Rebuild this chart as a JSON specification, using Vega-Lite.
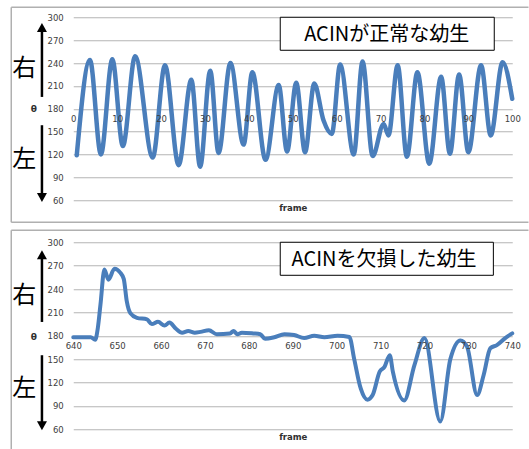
{
  "$schema": "https://vega.github.io/schema/vega-lite/v6.json",
  "autosize": {"type": "pad"},
  "padding": {"left": 10.25, "top": 6.25, "right": 0, "bottom": 0},
  "background": "white",
  "bounds": "flush",
  "spacing": 42,
  "config": {
    "view": {"stroke": null},
    "axis": {"labelFont": "DejaVu Sans", "titleFont": "DejaVu Sans", "labelColor": "#404040", "titleColor": "#303030", "labelFontSize": 8.5, "labelFlush": false, "labelOverlap": false}
  },
  "datasets": {
    "normal": [
      {"frame": 0.8, "theta": 119}, {"frame": 3.8, "theta": 244}, {"frame": 6.3, "theta": 120},
      {"frame": 8.9, "theta": 245}, {"frame": 11.3, "theta": 131}, {"frame": 14.1, "theta": 249},
      {"frame": 18.1, "theta": 116}, {"frame": 20.9, "theta": 237}, {"frame": 24, "theta": 106},
      {"frame": 26.9, "theta": 218}, {"frame": 28.9, "theta": 104}, {"frame": 31.2, "theta": 230},
      {"frame": 33.1, "theta": 122}, {"frame": 35.8, "theta": 240}, {"frame": 38.8, "theta": 133},
      {"frame": 40.8, "theta": 228}, {"frame": 43.8, "theta": 113}, {"frame": 46.8, "theta": 211},
      {"frame": 48.7, "theta": 124}, {"frame": 50.8, "theta": 214}, {"frame": 52.8, "theta": 123},
      {"frame": 54.9, "theta": 213}, {"frame": 57, "theta": 165}, {"frame": 58.9, "theta": 147},
      {"frame": 60.8, "theta": 238}, {"frame": 63.9, "theta": 120}, {"frame": 65.9, "theta": 242},
      {"frame": 68.2, "theta": 118}, {"frame": 70.7, "theta": 160}, {"frame": 71.8, "theta": 145},
      {"frame": 73.9, "theta": 237}, {"frame": 76, "theta": 117}, {"frame": 78.4, "theta": 228},
      {"frame": 81.1, "theta": 108}, {"frame": 83.8, "theta": 222}, {"frame": 85.8, "theta": 121},
      {"frame": 87.9, "theta": 225}, {"frame": 90, "theta": 123}, {"frame": 92.9, "theta": 237},
      {"frame": 95.1, "theta": 145}, {"frame": 97.8, "theta": 241}, {"frame": 100, "theta": 193}
    ],
    "deficient": [
      {"frame": 640, "theta": 178}, {"frame": 642, "theta": 178}, {"frame": 644, "theta": 178},
      {"frame": 645, "theta": 175}, {"frame": 645.6, "theta": 190}, {"frame": 646.2, "theta": 220},
      {"frame": 647.1, "theta": 265}, {"frame": 648, "theta": 252}, {"frame": 649.4, "theta": 266},
      {"frame": 650.7, "theta": 261}, {"frame": 651.5, "theta": 253}, {"frame": 652.2, "theta": 224},
      {"frame": 653, "theta": 209}, {"frame": 654.5, "theta": 203}, {"frame": 656.8, "theta": 201},
      {"frame": 657.9, "theta": 195}, {"frame": 659.3, "theta": 198}, {"frame": 660.8, "theta": 193},
      {"frame": 661.9, "theta": 197}, {"frame": 663.4, "theta": 189}, {"frame": 664.8, "theta": 184},
      {"frame": 666.2, "theta": 186}, {"frame": 667.7, "theta": 184}, {"frame": 669, "theta": 185},
      {"frame": 670.9, "theta": 187}, {"frame": 672.7, "theta": 182}, {"frame": 675.7, "theta": 183},
      {"frame": 676.5, "theta": 186}, {"frame": 677.4, "theta": 182}, {"frame": 678.4, "theta": 184},
      {"frame": 681, "theta": 183}, {"frame": 682.6, "theta": 182}, {"frame": 683.7, "theta": 176},
      {"frame": 685.8, "theta": 178}, {"frame": 688.1, "theta": 182}, {"frame": 690.3, "theta": 181},
      {"frame": 692.6, "theta": 177}, {"frame": 694.9, "theta": 180}, {"frame": 697.2, "theta": 178},
      {"frame": 700.2, "theta": 180}, {"frame": 702.9, "theta": 178.5}, {"frame": 704, "theta": 150},
      {"frame": 705.5, "theta": 112}, {"frame": 707, "theta": 98}, {"frame": 708.2, "theta": 104},
      {"frame": 709.8, "theta": 134}, {"frame": 710.9, "theta": 140}, {"frame": 712.1, "theta": 155},
      {"frame": 712.8, "theta": 134}, {"frame": 715.4, "theta": 97}, {"frame": 717.7, "theta": 142},
      {"frame": 720, "theta": 177}, {"frame": 723.6, "theta": 70}, {"frame": 725.9, "theta": 150},
      {"frame": 728.2, "theta": 174}, {"frame": 729.7, "theta": 166}, {"frame": 732, "theta": 104},
      {"frame": 733.5, "theta": 130}, {"frame": 735, "theta": 164}, {"frame": 736.5, "theta": 168},
      {"frame": 738.4, "theta": 177}, {"frame": 740, "theta": 183}
    ]
  },
  "vconcat": [
    {
      "width": 439,
      "height": 183,
      "layer": [
        {
          "data": {"name": "normal"},
          "mark": {"type": "line", "interpolate": "monotone", "color": "#4a7ebb", "strokeWidth": 4.5, "strokeCap": "round", "strokeJoin": "round"},
          "encoding": {
            "x": {"field": "frame", "type": "quantitative", "scale": {"domain": [0, 100], "nice": false, "zero": false},
              "axis": {"values": [0, 10, 20, 30, 40, 50, 60, 70, 80, 90, 100], "grid": false, "domain": false, "ticks": false, "offset": -91.5, "labelPadding": 6, "labelFlush": false, "labelOverlap": false, "zindex": 1, "title": "frame", "titleY": 98.5, "titleFontSize": 8.5, "titleFontWeight": "bold", "titleBaseline": "middle"}},
            "y": {"field": "theta", "type": "quantitative", "scale": {"domain": [60, 300], "nice": false, "zero": false},
              "axis": {"values": [60, 90, 120, 150, 180, 210, 240, 270, 300], "tickCount": 9, "grid": true, "gridColor": "#b4b4b4", "domain": false, "ticks": false, "labelPadding": 10, "labelFlush": false, "labelOverlap": false, "title": "θ", "titleAngle": 0, "titleX": -40, "titleY": 91.5, "titleFontSize": 9, "titleFontWeight": "bold", "titleAlign": "center", "titleBaseline": "middle"}}
          }
        },
        {
          "data": {"values": [{}]},
          "mark": {"type": "rule", "color": "#b0b0b0", "strokeWidth": 1.5},
          "encoding": {"x": {"datum": -14.12}, "y": {"datum": 313.1}, "y2": {"datum": 31.1}}
        },
        {
          "data": {"values": [{}]},
          "mark": {"type": "rule", "color": "#b0b0b0", "strokeWidth": 1.5},
          "encoding": {"x": {"datum": -14.12}, "x2": {"datum": 103.7}, "y": {"datum": 313.1}}
        },
        {
          "data": {"values": [{}]},
          "mark": {"type": "rule", "color": "#b0b0b0", "strokeWidth": 1.5},
          "encoding": {"x": {"datum": -14.12}, "x2": {"datum": 103.7}, "y": {"datum": 31.1}}
        },
        {
          "data": {"values": [{}]},
          "mark": {"type": "rule", "color": "black", "strokeWidth": 2.5},
          "encoding": {"x": {"datum": -7.13}, "y": {"datum": 282}, "y2": {"datum": 195.5}}
        },
        {
          "data": {"values": [{}]},
          "mark": {"type": "rule", "color": "black", "strokeWidth": 2.5},
          "encoding": {"x": {"datum": -7.13}, "y": {"datum": 158.4}, "y2": {"datum": 68.5}}
        },
        {
          "data": {"values": [{}]},
          "mark": {"type": "point", "shape": "M0,-1L-1,0.8L1,0.8Z", "filled": true, "color": "black", "opacity": 1, "size": 100},
          "encoding": {"x": {"datum": -7.13}, "y": {"datum": 286.0}}
        },
        {
          "data": {"values": [{}]},
          "mark": {"type": "point", "shape": "M0,1L-1,-0.8L1,-0.8Z", "filled": true, "color": "black", "opacity": 1, "size": 100},
          "encoding": {"x": {"datum": -7.13}, "y": {"datum": 64.3}}
        },
        {
          "data": {"values": [{}]},
          "mark": {"type": "text", "text": "右", "font": "Noto Sans CJK JP", "fontSize": 24, "color": "black", "align": "center", "baseline": "middle"},
          "encoding": {"x": {"datum": -11.16}, "y": {"datum": 231.8}}
        },
        {
          "data": {"values": [{}]},
          "mark": {"type": "text", "text": "左", "font": "Noto Sans CJK JP", "fontSize": 24, "color": "black", "align": "center", "baseline": "middle"},
          "encoding": {"x": {"datum": -11.16}, "y": {"datum": 112.5}}
        },
        {
          "data": {"values": [{}]},
          "mark": {"type": "rect", "fill": "white", "stroke": "black", "strokeWidth": 1},
          "encoding": {"x": {"datum": 47.15}, "x2": {"datum": 95.9}, "y": {"datum": 300}, "y2": {"datum": 256.7}}
        },
        {
          "data": {"values": [{}]},
          "mark": {"type": "text", "text": "ACINが正常な幼生", "font": "Noto Sans CJK JP", "fontSize": 20, "color": "black", "align": "center", "baseline": "middle"},
          "encoding": {"x": {"datum": 71.4}, "y": {"datum": 277}}
        }
      ]
    },
    {
      "width": 439,
      "height": 187,
      "layer": [
        {
          "data": {"name": "deficient"},
          "mark": {"type": "line", "interpolate": "monotone", "color": "#4a7ebb", "strokeWidth": 4, "strokeCap": "round", "strokeJoin": "round"},
          "encoding": {
            "x": {"field": "frame", "type": "quantitative", "scale": {"domain": [640, 740], "nice": false, "zero": false},
              "axis": {"values": [640, 650, 660, 670, 680, 690, 700, 710, 720, 730, 740], "grid": false, "domain": false, "ticks": false, "offset": -93.6, "labelPadding": 6, "labelFlush": false, "labelOverlap": false, "zindex": 1, "title": "frame", "titleY": 100.6, "titleFontSize": 8.5, "titleFontWeight": "bold", "titleBaseline": "middle"}},
            "y": {"field": "theta", "type": "quantitative", "scale": {"domain": [60, 300], "nice": false, "zero": false},
              "axis": {"values": [60, 90, 120, 150, 180, 210, 240, 270, 300], "tickCount": 9, "grid": true, "gridColor": "#b4b4b4", "domain": false, "ticks": false, "labelPadding": 10, "labelFlush": false, "labelOverlap": false, "title": "θ", "titleAngle": 0, "titleX": -40, "titleY": 94, "titleFontSize": 9, "titleFontWeight": "bold", "titleAlign": "center", "titleBaseline": "middle"}}
          }
        },
        {
          "data": {"values": [{}]},
          "mark": {"type": "rule", "color": "#b0b0b0", "strokeWidth": 1.5},
          "encoding": {"x": {"datum": 625.88}, "y": {"datum": 315.4}, "y2": {"datum": 34.6}}
        },
        {
          "data": {"values": [{}]},
          "mark": {"type": "rule", "color": "#b0b0b0", "strokeWidth": 1.5},
          "encoding": {"x": {"datum": 625.88}, "x2": {"datum": 743.7}, "y": {"datum": 315.4}}
        },
        {
          "data": {"values": [{}]},
          "mark": {"type": "rule", "color": "black", "strokeWidth": 2.5},
          "encoding": {"x": {"datum": 632.87}, "y": {"datum": 279.5}, "y2": {"datum": 197.7}}
        },
        {
          "data": {"values": [{}]},
          "mark": {"type": "rule", "color": "black", "strokeWidth": 2.5},
          "encoding": {"x": {"datum": 632.87}, "y": {"datum": 155}, "y2": {"datum": 69}}
        },
        {
          "data": {"values": [{}]},
          "mark": {"type": "point", "shape": "M0,-1L-1,0.8L1,0.8Z", "filled": true, "color": "black", "opacity": 1, "size": 100},
          "encoding": {"x": {"datum": 632.87}, "y": {"datum": 283.3}}
        },
        {
          "data": {"values": [{}]},
          "mark": {"type": "point", "shape": "M0,1L-1,-0.8L1,-0.8Z", "filled": true, "color": "black", "opacity": 1, "size": 100},
          "encoding": {"x": {"datum": 632.87}, "y": {"datum": 65.1}}
        },
        {
          "data": {"values": [{}]},
          "mark": {"type": "text", "text": "右", "font": "Noto Sans CJK JP", "fontSize": 24, "color": "black", "align": "center", "baseline": "middle"},
          "encoding": {"x": {"datum": 628.84}, "y": {"datum": 230.7}}
        },
        {
          "data": {"values": [{}]},
          "mark": {"type": "text", "text": "左", "font": "Noto Sans CJK JP", "fontSize": 24, "color": "black", "align": "center", "baseline": "middle"},
          "encoding": {"x": {"datum": 628.84}, "y": {"datum": 111.3}}
        },
        {
          "data": {"values": [{}]},
          "mark": {"type": "rect", "fill": "white", "stroke": "black", "strokeWidth": 1},
          "encoding": {"x": {"datum": 687.15}, "x2": {"datum": 735.7}, "y": {"datum": 300}, "y2": {"datum": 257.6}}
        },
        {
          "data": {"values": [{}]},
          "mark": {"type": "text", "text": "ACINを欠損した幼生", "font": "Noto Sans CJK JP", "fontSize": 20, "color": "black", "align": "center", "baseline": "middle"},
          "encoding": {"x": {"datum": 710.8}, "y": {"datum": 277.5}}
        }
      ]
    }
  ]
}
